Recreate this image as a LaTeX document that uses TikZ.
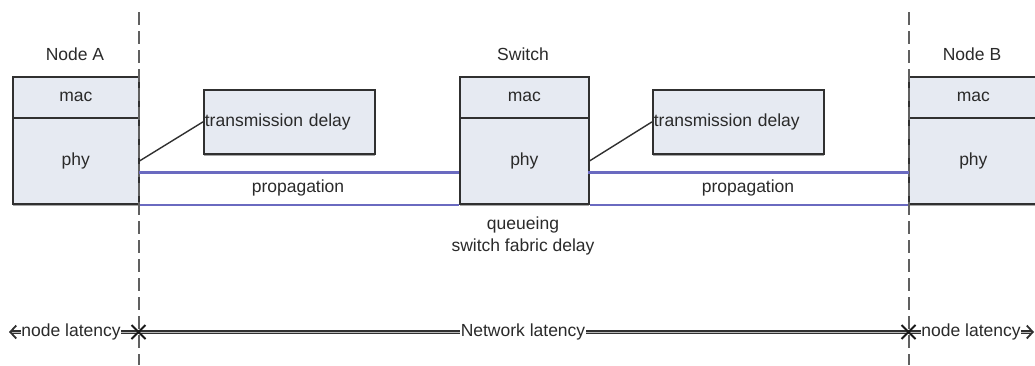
\documentclass[tikz,border=0pt]{standalone}
\usepackage{fontspec}
\setmainfont{Liberation Sans}
\usetikzlibrary{shapes.misc,arrows.meta,shadows}
\definecolor{boxfill}{HTML}{E6EAF2}
\definecolor{boxline}{HTML}{303030}
\definecolor{propline}{HTML}{6A6AC0}
\definecolor{txt}{HTML}{2A2A2A}
\definecolor{dashcol}{HTML}{606060}
\begin{document}
\begin{tikzpicture}[x=1pt,y=-1pt,
  every node/.style={font=\fontsize{17.5}{22}\selectfont, text=txt},
  layer/.style={draw=boxline, fill=boxfill, line width=1.7pt, inner sep=0pt, anchor=north west,
    drop shadow={shadow xshift=0pt, shadow yshift=-2pt, fill=gray!70, opacity=1}},
  macbox/.style={layer, minimum height=41pt},
  phybox/.style={layer, minimum height=86pt},
  tdbox/.style={layer, minimum height=64pt, text width=169pt, inner xsep=1pt, align=left},
  title/.style={inner sep=1pt},
  plain/.style={inner sep=1pt, align=center},
  divider/.style={dashcol, line width=2pt, dash pattern=on 13pt off 6pt},
  prop/.style={propline, line width=2.2pt},
  lead/.style={boxline, line width=1.4pt},
  latency/.style={draw=boxline, line width=1.1pt, double=gray!55, double distance=1pt},
  latlabel/.style={fill=white, inner xsep=0.5pt, inner ysep=1pt},
  crossmark/.style={cross out, draw=black!90, line width=2pt, minimum size=12pt, inner sep=0pt}
]
\useasboundingbox (0,0) rectangle (1035,365);

% boxes
\node[macbox, minimum width=126pt] (macA) at (12,76) {mac};
\node[phybox, minimum width=126pt] (phyA) at (12,117) {phy};
\node[macbox, minimum width=129pt] (macS) at (459,76) {mac};
\node[phybox, minimum width=129pt] (phyS) at (459,117) {phy};
\node[macbox, minimum width=129pt] (macB) at (908,76) {mac};
\node[phybox, minimum width=129pt] (phyB) at (908,117) {phy};

\node[tdbox] (tdA) at (203,89) {transmission delay};
\node[tdbox] (tdS) at (652,89) {transmission delay};

% titles
\node[title] (tA) at (75,54) {Node A};
\node[title] (tS) at (523,54) {Switch};
\node[title] (tB) at (972,54) {Node B};

% dashed dividers
\coordinate (dAtop) at (138.5,12);
\coordinate (dAbot) at (138.5,365);
\coordinate (dBtop) at (908.5,12);
\coordinate (dBbot) at (908.5,365);
\draw[divider] (dAtop) -- (dAbot);
\draw[divider] (dBtop) -- (dBbot);

% leads to transmission delay
\draw[lead] (phyA.east) -- (tdA.west);
\draw[lead] (phyS.east) -- (tdS.west);

% propagation lines
\coordinate (p1a) at (138.5,172.5);
\coordinate (p1b) at (459,172.5);
\coordinate (p2a) at (588,172.5);
\coordinate (p2b) at (908.5,172.5);
\draw[prop] (p1a) -- (p1b);
\draw[prop] (p2a) -- (p2b);
\draw[prop] (phyA.south east) -- (phyS.south west);
\draw[prop] (phyS.south east) -- (phyB.south west);
\node[plain] (propA) at (298,188) {propagation};
\node[plain] (propB) at (748,188) {propagation};

% switch delay
\node[plain] (queue) at (523,236) {queueing\\switch fabric delay};

% latency line
\coordinate (lEnd) at (9,332);
\coordinate (xA) at (138.5,332);
\coordinate (xB) at (908.5,332);
\coordinate (rEnd) at (1034,332);
\draw[latency, {Straight Barb[length=6pt,width=13pt,line width=1.8pt]}-] (lEnd) -- (xA);
\draw[latency] (xA) -- (xB);
\draw[latency, -{Straight Barb[length=6pt,width=13pt,line width=1.8pt]}] (xB) -- (rEnd);
\node[latlabel] (nlA) at (71,332) {node latency};
\node[latlabel] (netl) at (523,332) {Network latency};
\node[latlabel] (nlB) at (971,332) {node latency};
\node[crossmark] (cA) at (xA) {};
\node[crossmark] (cB) at (xB) {};
\end{tikzpicture}
\end{document}
